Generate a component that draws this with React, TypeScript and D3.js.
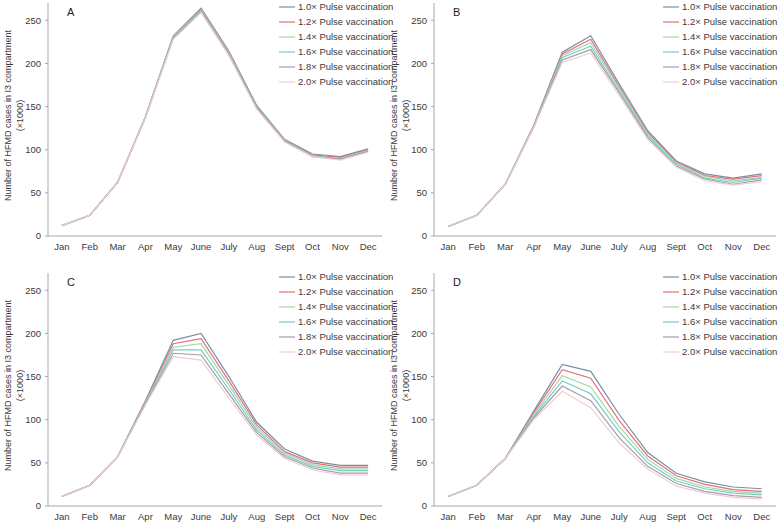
import React from "react";
import * as d3 from "d3";

const months = ["Jan", "Feb", "Mar", "Apr", "May", "June", "July", "Aug", "Sept", "Oct", "Nov", "Dec"];
const seriesNames = [
  "1.0× Pulse vaccination",
  "1.2× Pulse vaccination",
  "1.4× Pulse vaccination",
  "1.6× Pulse vaccination",
  "1.8× Pulse vaccination",
  "2.0× Pulse vaccination",
];
const seriesColors = ["#7b8ea3", "#e0707e", "#a6d6a0", "#72cfc4", "#a49cb0", "#f2cdd0"];
const yTicks = [0, 50, 100, 150, 200, 250];
const panelLabels = ["A", "B", "C", "D"];

const panelA = [
  [12, 24, 62, 138, 232, 264, 214, 151, 112, 95, 92, 101],
  [12, 24, 62, 138, 231, 263, 213, 150, 111, 94, 91, 100],
  [12, 24, 62, 138, 231, 262, 212, 149, 111, 93, 90, 99],
  [12, 24, 62, 138, 230, 261, 211, 149, 110, 93, 89, 98],
  [12, 24, 62, 137, 229, 260, 210, 148, 110, 92, 89, 98],
  [12, 24, 62, 137, 228, 259, 209, 147, 109, 92, 88, 97],
];
const panelB = [
  [11, 24, 60, 128, 213, 232, 176, 122, 87, 72, 67, 72],
  [11, 24, 60, 128, 211, 228, 173, 120, 86, 70, 66, 70],
  [11, 24, 60, 127, 209, 224, 171, 118, 84, 69, 64, 68],
  [11, 24, 60, 127, 207, 220, 168, 116, 83, 67, 62, 67],
  [11, 24, 60, 126, 204, 216, 166, 114, 81, 66, 60, 65],
  [11, 24, 60, 126, 201, 212, 163, 112, 80, 64, 59, 63],
];
const panelC = [
  [11, 24, 57, 122, 192, 200, 150, 97, 66, 52, 47, 47],
  [11, 24, 57, 121, 188, 194, 145, 94, 63, 50, 45, 45],
  [11, 24, 57, 120, 184, 188, 140, 91, 61, 48, 43, 43],
  [11, 24, 57, 119, 181, 181, 135, 88, 59, 46, 41, 41],
  [11, 24, 57, 118, 177, 175, 130, 85, 57, 44, 38, 38],
  [11, 24, 57, 117, 173, 169, 125, 82, 55, 42, 36, 36],
];
const panelD = [
  [11, 24, 55, 110, 164, 156, 106, 62, 38, 28, 22, 20],
  [11, 24, 55, 108, 158, 148, 99, 58, 35, 25, 19, 17],
  [11, 24, 55, 106, 151, 138, 92, 54, 32, 22, 17, 15],
  [11, 24, 55, 104, 145, 130, 86, 50, 29, 20, 15, 13],
  [11, 24, 55, 102, 139, 122, 79, 46, 26, 17, 12, 10],
  [11, 24, 55, 100, 133, 114, 73, 43, 23, 15, 10, 8],
];
const panels = [panelA, panelB, panelC, panelD];

const FONT = "Liberation Sans, Arial, sans-serif";
const AXIS = "#a8a8a8";
const TEXT = "#3a3a3a";

function Panel({ data, label, x0, y0, x1, legendX }: any) {
  const top = y0 + 3;
  const bottom = y0 + 236;
  const x = d3.scaleBand<string>().domain(months).range([x0, x1]);
  const y = d3.scaleLinear().domain([0, 270]).range([bottom, top]);
  const cx = (m: string) => (x(m) as number) + x.bandwidth() / 2;
  const line = d3
    .line<number>()
    .x((_, i) => cx(months[i]))
    .y((v) => y(v));
  const ymid = (top + bottom) / 2 - 4;
  return (
    <g fontFamily={FONT}>
      {data.map((s: number[], i: number) => (
        <path key={i} d={line(s) || ""} fill="none" stroke={seriesColors[i]} strokeWidth={1.2} />
      ))}
      <line x1={x0} x2={x0} y1={top} y2={bottom} stroke={AXIS} strokeWidth={1} />
      <line x1={x0} x2={x1} y1={bottom} y2={bottom} stroke={AXIS} strokeWidth={1} />
      {yTicks.map((t) => (
        <g key={t}>
          <line x1={x0 - 3} x2={x0} y1={y(t)} y2={y(t)} stroke={AXIS} />
          <text x={x0 - 7} y={y(t)} dy="0.35em" textAnchor="end" fontSize={9.5} fill={TEXT}>
            {t}
          </text>
        </g>
      ))}
      {months.map((m) => (
        <text key={m} x={cx(m)} y={bottom + 14} textAnchor="middle" fontSize={9.5} fill={TEXT}>
          {m}
        </text>
      ))}
      <text
        transform={`translate(${x0 - 37},${ymid}) rotate(-90)`}
        textAnchor="middle"
        fontSize={9}
        fill={TEXT}
      >
        Number of  HFMD cases in I3 compartment
      </text>
      <text
        transform={`translate(${x0 - 25},${ymid}) rotate(-90)`}
        textAnchor="middle"
        fontSize={9}
        fill={TEXT}
      >
        (×1000)
      </text>
      <text x={x0 + 19} y={y0 + 16} fontSize={11} fill="#222">
        {label}
      </text>
      {seriesNames.map((n, i) => {
        const ly = y0 + 7 + i * 15;
        return (
          <g key={n}>
            <line x1={legendX - 19} x2={legendX - 3} y1={ly} y2={ly} stroke={seriesColors[i]} strokeWidth={1.2} />
            <text x={legendX} y={ly} dy="0.35em" fontSize={9.5} fill={TEXT}>
              {n}
            </text>
          </g>
        );
      })}
    </g>
  );
}

export default function App() {
  const layout = [
    { x0: 48, x1: 382, y0: 0, legendX: 298 },
    { x0: 434, x1: 776, y0: 0, legendX: 682 },
    { x0: 48, x1: 382, y0: 270, legendX: 298 },
    { x0: 434, x1: 776, y0: 270, legendX: 682 },
  ];
  return (
    <svg
      width={778}
      height={523}
      style={{ position: "absolute", left: 0, top: 0, background: "#fff" }}
    >
      <rect width={778} height={523} fill="#fff" />
      {layout.map((l, i) => (
        <Panel key={i} data={panels[i]} label={panelLabels[i]} {...l} />
      ))}
    </svg>
  );
}
